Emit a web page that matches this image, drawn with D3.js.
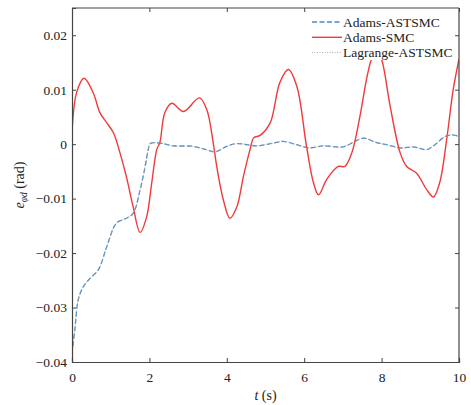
<!DOCTYPE html>
<html>
<head>
<meta charset="utf-8">
<script src="https://cdn.jsdelivr.net/npm/d3@7"></script>
<style>
  body { margin: 0; background: #fff; }
  svg { display: block; font-family: "Liberation Serif", "DejaVu Serif", serif; }
</style>
</head>
<body>
<div id="chart"></div>
<script>
// Values
const xTicks = [0, 2, 4, 6, 8, 10];
const yTicks = [-0.04, -0.03, -0.02, -0.01, 0, 0.01, 0.02];

const smcT = [0, 0.12, 0.31, 0.55, 0.72, 0.9, 1.07, 1.24, 1.41, 1.58, 1.76, 1.93, 2.06, 2.19, 2.27, 2.4, 2.58, 2.88, 3.29, 3.48, 3.65, 3.74, 3.91, 4.08, 4.26, 4.43, 4.6, 4.7, 4.86, 5.12, 5.37, 5.59, 5.81, 6.06, 6.24, 6.37, 6.58, 6.88, 7.05, 7.23, 7.44, 7.61, 7.74, 7.88, 8.0, 8.22, 8.48, 8.65, 8.9, 9.17, 9.34, 9.5, 9.68, 9.85, 10];
const smcV = [0.0021, 0.0095, 0.0121, 0.0094, 0.0058, 0.0039, 0.0021, -0.0016, -0.0061, -0.0115, -0.0162, -0.0133, -0.0071, -0.001, 0.0003, 0.0058, 0.0075, 0.006, 0.0085, 0.0064, 0.0002, -0.0041, -0.0102, -0.0136, -0.0115, -0.0059, -0.001, 0.0012, 0.0016, 0.0039, 0.0113, 0.0137, 0.0106, -0.0004, -0.0071, -0.0093, -0.0065, -0.0041, -0.0041, -0.0016, 0.0051, 0.0119, 0.0156, 0.0172, 0.0156, 0.007, -0.0016, -0.0041, -0.0053, -0.0084, -0.0097, -0.0071, 0.0008, 0.01, 0.0156];

const astT = [0, 0.08, 0.16, 0.29, 0.47, 0.68, 0.9, 1.15, 1.41, 1.58, 1.76, 1.89, 1.97, 2.02, 2.27, 2.62, 3.12, 3.46, 3.7, 4.0, 4.26, 4.77, 5.2, 5.46, 5.8, 6.15, 6.49, 7.0, 7.31, 7.53, 7.87, 8.13, 8.48, 8.82, 9.17, 9.34, 9.64, 9.81, 10];
const astV = [-0.0385, -0.0336, -0.0286, -0.0262, -0.0246, -0.0231, -0.0188, -0.0145, -0.0136, -0.0127, -0.0084, -0.0041, -0.001, 0.0001, 0.0002, -0.0003, -0.0004, -0.001, -0.0014, -0.0004, 0.0001, -0.0003, 0.0002, 0.0005, -0.0001, -0.0007, -0.0003, -0.0005, 0.0005, 0.0011, 0.0003, -0.0001, -0.0007, -0.0005, -0.001, -0.0003, 0.0014, 0.0017, 0.0014];

// Lagrange-ASTSMC lies on top of Adams-ASTSMC in the picture
const lagT = [0, 0.08, 0.16, 0.29, 0.47, 0.68, 0.9, 1.15, 1.41, 1.58, 1.76, 1.89, 1.97, 2.02, 2.27, 2.62, 3.12, 3.46, 3.7, 4.0, 4.26, 4.77, 5.2, 5.46, 5.8, 6.15, 6.49, 7.0, 7.31, 7.53, 7.87, 8.13, 8.48, 8.82, 9.17, 9.34, 9.64, 9.81, 10];
const lagV = [-0.0385, -0.0336, -0.0286, -0.0262, -0.0246, -0.0231, -0.0188, -0.0145, -0.0136, -0.0127, -0.0084, -0.0041, -0.001, 0.0001, 0.0002, -0.0003, -0.0004, -0.001, -0.0014, -0.0004, 0.0001, -0.0003, 0.0002, 0.0005, -0.0001, -0.0007, -0.0003, -0.0005, 0.0005, 0.0011, 0.0003, -0.0001, -0.0007, -0.0005, -0.001, -0.0003, 0.0014, 0.0017, 0.0014];

const width = 471, height = 405;
const margin = { top: 8, right: 12, bottom: 43, left: 72 };
const plotW = width - margin.left - margin.right;
const plotH = height - margin.top - margin.bottom;

const svg = d3.select('#chart').append('svg')
    .attr('width', width)
    .attr('height', height);

const x = d3.scaleLinear().domain([0, 10]).range([margin.left, margin.left + plotW]);
const y = d3.scaleLinear().domain([-0.04, 0.025]).range([margin.top + plotH, margin.top]);

svg.append('defs').append('clipPath').attr('id', 'clip')
    .append('rect')
    .attr('x', margin.left).attr('y', margin.top)
    .attr('width', plotW).attr('height', plotH);

const line = d3.line()
    .x(d => x(d[0]))
    .y(d => y(d[1]))
    .curve(d3.curveCatmullRom.alpha(0.5));

const series = [
    { name: 'Adams-ASTSMC', t: astT, v: astV, color: '#4a8ac4', width: 1.3, dash: '5,2.5' },
    { name: 'Adams-SMC', t: smcT, v: smcV, color: '#f03a3a', width: 1.4, dash: null },
    { name: 'Lagrange-ASTSMC', t: lagT, v: lagV, color: '#a8a8a8', width: 1, dash: '1,1.5' }
];

const lines = svg.append('g').attr('clip-path', 'url(#clip)');
series.forEach(s => {
    lines.append('path')
        .datum(s.t.map((t, i) => [t, s.v[i]]))
        .attr('fill', 'none')
        .attr('stroke', s.color)
        .attr('stroke-width', s.width)
        .attr('stroke-dasharray', s.dash)
        .attr('d', line);
});

// Legend (white box, no border)
const legend = svg.append('g');
legend.append('rect')
    .attr('x', 309).attr('y', 9)
    .attr('width', 145).attr('height', 51)
    .attr('fill', '#fff');
series.forEach((s, i) => {
    const ly = 22 + i * 15.3;
    legend.append('line')
        .attr('x1', 312).attr('x2', 342)
        .attr('y1', ly).attr('y2', ly)
        .attr('stroke', s.color)
        .attr('stroke-width', s.width)
        .attr('stroke-dasharray', s.dash);
    legend.append('text')
        .attr('x', 343).attr('y', ly + 4.5)
        .attr('font-size', 13.5)
        .attr('fill', '#222')
        .text(s.name);
});

// Axes: box with inward ticks
const axisColor = '#444';
const tickLen = 4;
const xAxis = svg.append('g')
    .attr('transform', `translate(0,${margin.top + plotH})`)
    .call(d3.axisBottom(x).tickValues(xTicks).tickSize(-tickLen).tickPadding(10).tickFormat(d3.format('d')));
const xTop = svg.append('g')
    .attr('transform', `translate(0,${margin.top})`)
    .call(d3.axisTop(x).tickValues(xTicks).tickSize(-tickLen).tickFormat(''));
const yAxis = svg.append('g')
    .attr('transform', `translate(${margin.left},0)`)
    .call(d3.axisLeft(y).tickValues(yTicks).tickSize(-tickLen).tickPadding(5).tickFormat(d => d === 0 ? '0' : d3.format('.2f')(d)));
const yRight = svg.append('g')
    .attr('transform', `translate(${margin.left + plotW},0)`)
    .call(d3.axisRight(y).tickValues(yTicks).tickSize(-tickLen).tickFormat(''));

[xAxis, xTop, yAxis, yRight].forEach(g => {
    g.select('.domain').attr('stroke', axisColor).attr('stroke-width', 1.2);
    g.selectAll('.tick line').attr('stroke', axisColor);
    g.selectAll('text')
        .attr('font-family', '"Liberation Serif", serif')
        .attr('font-size', 13.5)
        .attr('fill', '#222');
});
// hide top tick under legend
xTop.selectAll('.tick').filter(d => d === 8).remove();
// plain frame edges (local coordinates of each axis group)
xTop.select('.domain').attr('d', `M${margin.left},0H${margin.left + plotW}`);
yRight.select('.domain').attr('d', `M0,${margin.top}V${margin.top + plotH}`);

// Axis labels
svg.append('text')
    .attr('x', margin.left + plotW / 2)
    .attr('y', 400)
    .attr('text-anchor', 'middle')
    .attr('font-size', 14)
    .attr('fill', '#222')
    .html('<tspan font-style="italic">t</tspan> (s)');

svg.append('text')
    .attr('transform', `translate(24,${margin.top + plotH / 2}) rotate(-90)`)
    .attr('text-anchor', 'middle')
    .attr('font-size', 14)
    .attr('fill', '#222')
    .html('<tspan font-style="italic">e</tspan><tspan font-style="italic" font-size="9.5" dy="3">φd</tspan><tspan dy="-3"> (rad)</tspan>');
</script>
</body>
</html>
